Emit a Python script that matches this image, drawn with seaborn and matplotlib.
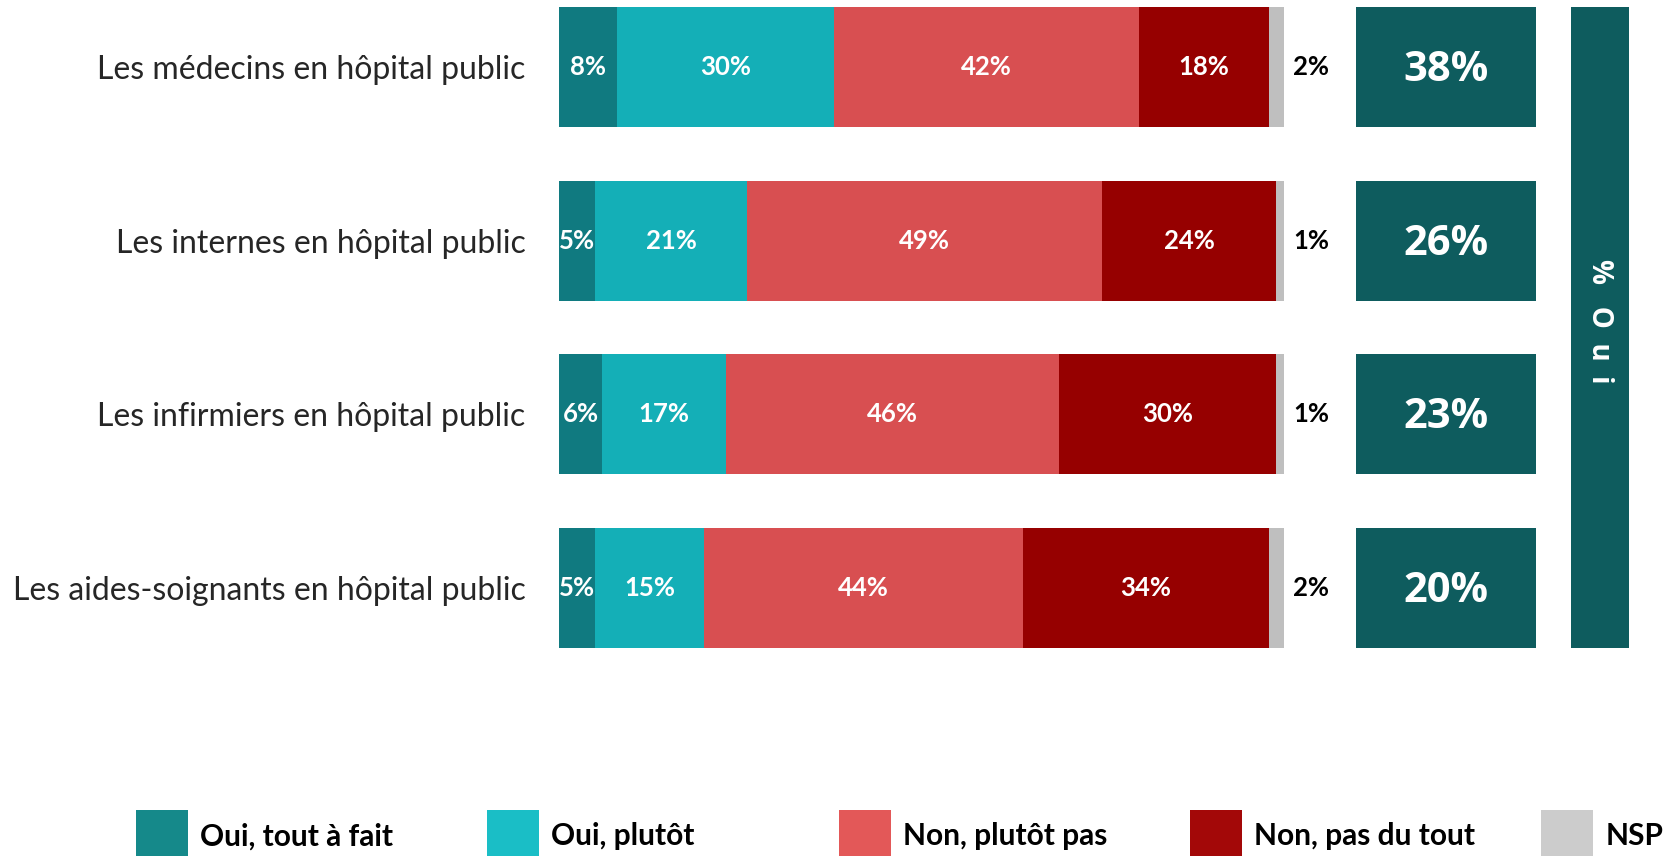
import numpy as np
import pandas as pd
import matplotlib
matplotlib.use("Agg")
import matplotlib.pyplot as plt
import seaborn as sns

categories = [
    "Les médecins en hôpital public",
    "Les internes en hôpital public",
    "Les infirmiers en hôpital public",
    "Les aides-soignants en hôpital public",
]
series_names = ["Oui, tout à fait", "Oui, plutôt", "Non, plutôt pas", "Non, pas du tout", "NSP"]
oui_tout_a_fait = [8, 5, 6, 5]
oui_plutot = [30, 21, 17, 15]
non_plutot_pas = [42, 49, 46, 44]
non_pas_du_tout = [18, 24, 30, 34]
nsp = [2, 1, 1, 2]

colors = ["#107A80", "#14AFB7", "#D84F51", "#960000", "#BFBFBF"]
legend_colors = ["#15898A", "#1ABEC6", "#E35858", "#A30808", "#CCCCCC"]
box_color = "#0E5C5E"

sns.set_style("white")
plt.rcParams["font.family"] = ["Lato", "DejaVu Sans"]

W, H = 1666, 856
fig = plt.figure(figsize=(W / 100, H / 100), dpi=100)

series = [oui_tout_a_fait, oui_plutot, non_plutot_pas, non_pas_du_tout, nsp]
vals = np.array(series, dtype=float)  # shape (5, 4)
cum = np.cumsum(vals, axis=0)

bar_h = 0.692
top_px, bot_px = 7.4, 648.0
ax_bottom = 1 - bot_px / H
ax_height = (bot_px - top_px) / H

ax = fig.add_axes([559 / W, ax_bottom, 724.5 / W, ax_height])
for k in range(4, -1, -1):
    df = pd.DataFrame({"cat": categories, "val": cum[k]})
    sns.barplot(data=df, x="val", y="cat", color=colors[k], ax=ax,
                width=bar_h, orient="h", linewidth=0, saturation=1)

ax.set_xlim(0, 100)
ax.set_ylim(3 + bar_h / 2, -bar_h / 2)
ax.set_xlabel("")
ax.set_ylabel("")
ax.set_xticks([])
ax.tick_params(axis="y", length=0, pad=24, labelsize=23)
for s in ax.spines.values():
    s.set_visible(False)

# in-bar labels
for k in range(4):
    for i in range(4):
        v = vals[k, i]
        mid = cum[k, i] - v / 2
        ax.text(mid, i, f"{int(v)}%", ha="center", va="center", color="white",
                fontsize=18.5, fontweight="bold")
# NSP labels outside
for i in range(4):
    ax.text(100 + 1.3, i, f"{int(vals[4, i])}%", ha="left", va="center",
            color="black", fontsize=18.5, fontweight="bold")

# % Oui boxes
ax2 = fig.add_axes([1356 / W, ax_bottom, 180 / W, ax_height])
oui_total = vals[0] + vals[1]
df2 = pd.DataFrame({"cat": categories, "val": [1] * 4})
sns.barplot(data=df2, x="val", y="cat", color=box_color, ax=ax2,
            width=bar_h, orient="h", linewidth=0, saturation=1)
ax2.set_xlim(0, 1)
ax2.set_ylim(3 + bar_h / 2, -bar_h / 2)
ax2.axis("off")
for i in range(4):
    ax2.text(0.5, i + 0.02, f"{int(oui_total[i])}%", ha="center", va="center",
             color="white", fontsize=30, fontweight="bold",
             family=["Open Sans", "DejaVu Sans"])

# vertical "% Oui" banner
ax3 = fig.add_axes([1571 / W, ax_bottom, 58 / W, ax_height])
ax3.set_facecolor(box_color)
ax3.set_xticks([])
ax3.set_yticks([])
for s in ax3.spines.values():
    s.set_visible(False)
ax3.text(0.5, 0.51, "%   O  u  i", rotation=-90, ha="center", va="center",
         color="white", fontsize=20, fontweight="bold",
         family=["Open Sans", "DejaVu Sans"], transform=ax3.transAxes)

# legend
axl = fig.add_axes([136 / W, 0, (W - 136) / W, 46 / H])
axl.set_xlim(0, W - 136)
axl.set_ylim(0, 1)
axl.axis("off")
pitch = 351.3
for j, name in enumerate(series_names):
    axl.bar(j * pitch, 1, width=52, align="edge", color=legend_colors[j], linewidth=0)
    axl.text(j * pitch + 64, 0.43, name, ha="left", va="center", fontsize=21.5,
             fontweight="bold", color="black")

fig.savefig("out.png", dpi=100)
